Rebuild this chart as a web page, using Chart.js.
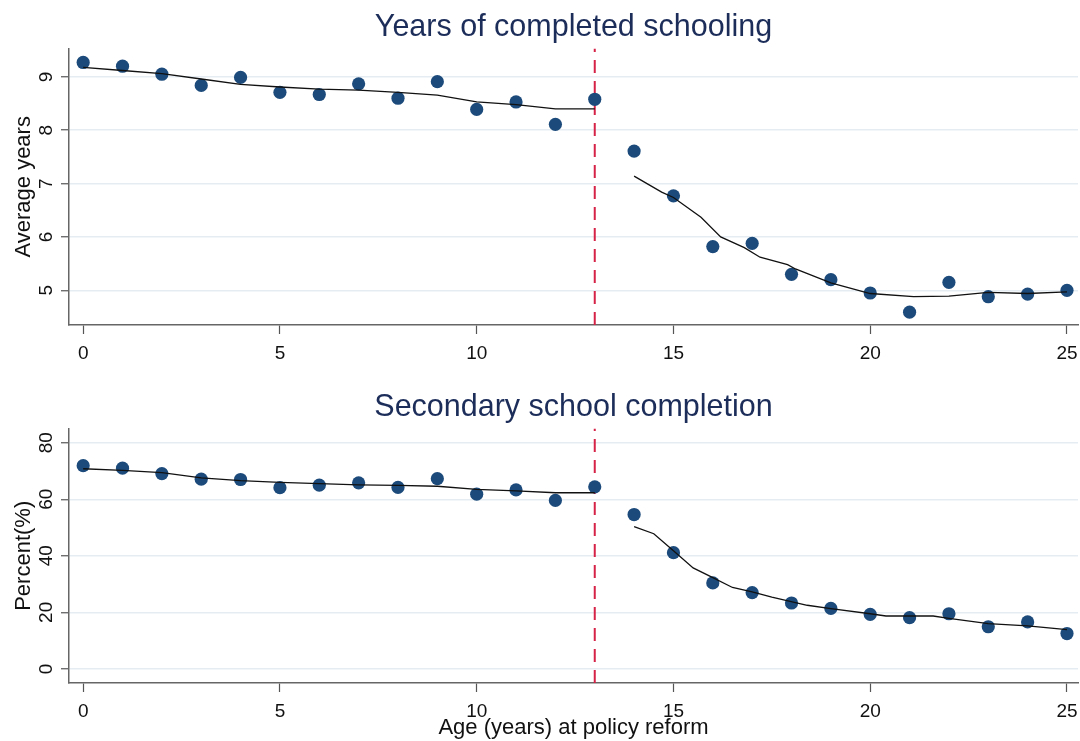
<!DOCTYPE html>
<html>
<head>
<meta charset="utf-8">
<script src="https://cdn.jsdelivr.net/npm/chart.js@4.4.1/dist/chart.umd.min.js"></script>
<style>
  html, body { margin: 0; padding: 0; background: #ffffff; }
  #wrap { position: relative; width: 1080px; height: 741px; overflow: hidden; }
  .panel { position: absolute; left: 0; width: 1080px; }
  #topPanel { top: 0; height: 370px; }
  #bottomPanel { top: 370px; height: 371px; }
</style>
</head>
<body>
<div id="wrap">
  <div class="panel" id="topPanel"><canvas id="schoolingChart"></canvas></div>
  <div class="panel" id="bottomPanel"><canvas id="completionChart"></canvas></div>
</div>
<script>
// Age at the time of the policy reform (years)
const ages = [0, 1, 2, 3, 4, 5, 6, 7, 8, 9, 10, 11, 12, 13, 14, 15, 16, 17, 18, 19, 20, 21, 22, 23, 24, 25];

// Average years of completed schooling by age cohort
const yearsSchooling = [9.27, 9.20, 9.05, 8.84, 8.99, 8.71, 8.67, 8.87, 8.60, 8.91, 8.39, 8.53, 8.11, 8.58,
                        7.61, 6.77, 5.82, 5.88, 5.30, 5.20, 4.95, 4.59, 5.15, 4.88, 4.93, 5.00];
// Smoothed fit, before and after the cutoff
const yearsFitPreX  = [0, 1, 2, 3, 4, 5, 6, 7, 8, 9, 10, 11, 12, 13];
const yearsFitPreY  = [9.18, 9.12, 9.06, 8.96, 8.86, 8.81, 8.77, 8.75, 8.71, 8.66, 8.53, 8.48, 8.40, 8.40];
const yearsFitPostX = [14, 14.7, 15, 15.7, 16.2, 16.8, 17.2, 17.9, 18.1, 19, 20, 21.1, 22, 23, 24, 25];
const yearsFitPostY = [7.14, 6.84, 6.74, 6.37, 6.00, 5.80, 5.62, 5.48, 5.40, 5.14, 4.94, 4.88, 4.89, 4.96, 4.94, 4.97];

// Share completing secondary school (%) by age cohort
const completionPct = [71.9, 71.0, 69.1, 67.1, 67.0, 64.1, 65.0, 65.8, 64.2, 67.3, 61.8, 63.3, 59.6, 64.4,
                       54.6, 41.1, 30.4, 27.0, 23.3, 21.4, 19.3, 18.1, 19.5, 14.9, 16.6, 12.5];
const completionFitPreX  = [0, 1, 2, 3, 4, 5, 6, 7, 8, 9, 10, 11, 12, 13];
const completionFitPreY  = [70.8, 70.2, 69.4, 67.6, 66.6, 66.0, 65.5, 65.1, 64.9, 64.6, 63.5, 63.0, 62.3, 62.3];
const completionFitPostX = [14, 14.5, 15, 15.5, 16, 16.5, 17, 17.5, 18.4, 19, 20, 20.4, 21.6, 22, 23, 24, 25];
const completionFitPostY = [50.3, 47.8, 41.8, 35.7, 32.3, 28.8, 27.2, 25.4, 22.5, 21.3, 19.5, 18.7, 18.7, 17.9, 16.0, 15.2, 13.9];

// Axis ticks and the reform cutoff
const xTicks = [0, 5, 10, 15, 20, 25];
const yearsTicks = [5, 6, 7, 8, 9];
const completionTicks = [0, 20, 40, 60, 80];
const cutoffAge = 13;

const FONT = "'Liberation Sans', Arial, Helvetica, sans-serif";
const NAVY = '#1c2d5a';
const DOT = '#1b4a7b';

function pairs(xs, ys) { return xs.map((x, i) => ({ x: x, y: ys[i] })); }

// Rotated y tick labels, placed through the y scale
function yLabelPlugin(ticks) {
  return {
    id: 'rotatedYLabels',
    afterDraw(chart) {
      const s = chart.scales.y;
      const ctx = chart.ctx;
      ctx.save();
      ctx.fillStyle = '#111111';
      ctx.font = '19px ' + FONT;
      ctx.textAlign = 'center';
      ctx.textBaseline = 'alphabetic';
      ticks.forEach(v => {
        const py = s.getPixelForValue(v);
        ctx.save();
        ctx.translate(s.right - 17.3, py);
        ctx.rotate(-Math.PI / 2);
        ctx.fillText(String(v), 0, 0);
        ctx.restore();
      });
      ctx.restore();
    }
  };
}

function makePanel(canvasId, p) {
  const datasets = [
    {
      label: 'cutoff',
      data: [{ x: cutoffAge, y: p.yMin }, { x: cutoffAge, y: p.yMax }],
      showLine: true, pointRadius: 0, borderColor: '#d62246', borderWidth: 2,
      borderDash: [13, 8], order: 3
    },
    {
      label: 'values',
      data: pairs(ages, p.values),
      showLine: false, pointRadius: 6.6, pointHoverRadius: 6.6,
      pointBackgroundColor: DOT, pointBorderWidth: 0, backgroundColor: DOT, borderColor: DOT,
      order: 2
    },
    {
      label: 'fit before',
      data: pairs(p.preX, p.preY),
      showLine: true, pointRadius: 0, borderColor: '#111111', borderWidth: 1.3, tension: 0, order: 1
    },
    {
      label: 'fit after',
      data: pairs(p.postX, p.postY),
      showLine: true, pointRadius: 0, borderColor: '#111111', borderWidth: 1.3, tension: 0, order: 1
    }
  ];

  return new Chart(document.getElementById(canvasId), {
    type: 'scatter',
    data: { datasets: datasets },
    options: {
      responsive: true,
      maintainAspectRatio: false,
      animation: false,
      devicePixelRatio: 1,
      layout: { autoPadding: false, padding: { left: 0, right: 2, top: 0, bottom: 0 } },
      plugins: {
        legend: { display: false },
        tooltip: { enabled: false },
        title: {
          display: true,
          text: p.title,
          fullSize: false,
          color: NAVY,
          font: { family: FONT, size: 30.5, weight: 'normal', lineHeight: 1.2 },
          padding: { top: p.titlePadTop, bottom: 2.5 }
        }
      },
      scales: {
        x: {
          type: 'linear',
          min: -0.36,
          max: 25.28,
          afterFit: s => { s.height = p.xAxisHeight; s.paddingLeft = 0; s.paddingRight = 0; },
          afterBuildTicks: s => { s.ticks = xTicks.map(v => ({ value: v })); },
          border: { display: true, color: '#666666', width: 1.5 },
          grid: { display: true, drawOnChartArea: false, drawTicks: true, tickLength: 9, tickColor: '#555555', tickWidth: 1.2 },
          ticks: { color: '#111111', font: { family: FONT, size: 19 }, padding: 8, maxRotation: 0 },
          title: p.xTitle ? {
            display: true, text: p.xTitle, color: '#111111',
            font: { family: FONT, size: 22, lineHeight: 1.2 },
            padding: { top: 0, bottom: 0 }
          } : { display: false }
        },
        y: {
          type: 'linear',
          min: p.yMin,
          max: p.yMax,
          afterFit: s => { s.width = 69; s.paddingTop = 0; s.paddingBottom = 0; },
          afterBuildTicks: s => { s.ticks = p.yTicks.map(v => ({ value: v })); },
          border: { display: true, color: '#666666', width: 1.5 },
          grid: { color: '#e6edf2', lineWidth: 1.5, drawTicks: true, tickLength: 8, tickColor: '#555555', tickWidth: 1.2 },
          ticks: { display: false },
          title: {
            display: true, text: p.yTitle, color: '#111111',
            font: { family: FONT, size: 22, lineHeight: 1.2 },
            padding: { top: 11, bottom: 0 }
          }
        }
      }
    },
    plugins: [yLabelPlugin(p.yTicks)]
  });
}

makePanel('schoolingChart', {
  title: 'Years of completed schooling',
  yTitle: 'Average years',
  yMin: 4.35, yMax: 9.53, yTicks: yearsTicks,
  values: yearsSchooling,
  preX: yearsFitPreX, preY: yearsFitPreY, postX: yearsFitPostX, postY: yearsFitPostY,
  titlePadTop: 9.5, xAxisHeight: 45, xTitle: null
});

makePanel('completionChart', {
  title: 'Secondary school completion',
  yTitle: 'Percent(%)',
  yMin: -5, yMax: 85, yTicks: completionTicks,
  values: completionPct,
  preX: completionFitPreX, preY: completionFitPreY, postX: completionFitPostX, postY: completionFitPostY,
  titlePadTop: 19.5, xAxisHeight: 58, xTitle: 'Age (years) at policy reform'
});
</script>
</body>
</html>
